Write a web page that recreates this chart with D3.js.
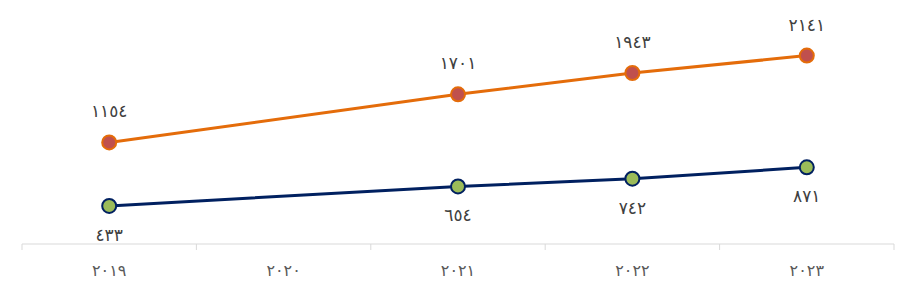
<!DOCTYPE html>
<html><head><meta charset="utf-8">
<script src="https://cdn.jsdelivr.net/npm/d3@7"></script>
<style>body{margin:0;background:#fff}svg{display:block}</style>
</head><body>
<script>
const categories = ["2019","2020","2021","2022","2023"];
const orangeSeries = [1154, null, 1701, 1943, 2141];
const blueSeries = [433, null, 654, 742, 871];

const W = 918, H = 300;
const toAr = s => String(s).replace(/[0-9]/g, d => "٠١٢٣٤٥٦٧٨٩"[+d]);
const svg = d3.select("body").append("svg").attr("width", W).attr("height", H);

const x = d3.scaleBand().domain(categories).range([22, 894]);
const y = d3.scaleLinear().domain([0, 2500]).range([244, 24]);

const axis = svg.append("g").attr("transform", "translate(0,244)")
  .call(d3.axisBottom(x).tickSize(0).tickFormat(toAr));
axis.select(".domain").attr("stroke", "#d9d9d9").attr("d", "M22,0H894");
axis.selectAll("text").attr("font-family", "DejaVu Sans").attr("font-size", 16)
  .attr("fill", "#595959").attr("dy", 0).attr("y", 32);
const edges = categories.map(c => x(c)).concat([894]);
axis.selectAll(".edge").data(edges).join("line")
  .attr("x1", d => d).attr("x2", d => d).attr("y1", 0).attr("y2", 6)
  .attr("stroke", "#d9d9d9");

function series(vals, lineColor, fillColor, labelDy) {
  const pts = categories.map((c, i) => ({c, v: vals[i]})).filter(d => d.v != null);
  const line = d3.line().x(d => x(d.c) + x.bandwidth()/2).y(d => y(d.v));
  svg.append("path").datum(pts).attr("d", line).attr("fill", "none")
    .attr("stroke", lineColor).attr("stroke-width", 3);
  svg.append("g").selectAll("circle").data(pts).join("circle")
    .attr("cx", d => x(d.c) + x.bandwidth()/2).attr("cy", d => y(d.v)).attr("r", 7)
    .attr("fill", fillColor).attr("stroke", lineColor).attr("stroke-width", 2);
  svg.append("g").selectAll("text").data(pts).join("text")
    .attr("x", d => x(d.c) + x.bandwidth()/2).attr("y", d => y(d.v) + labelDy)
    .attr("text-anchor", "middle").attr("font-family", "DejaVu Sans").attr("font-size", 17)
    .attr("fill", "#404040").text(d => toAr(d.v));
}
series(orangeSeries, "#E46C0A", "#C0504D", -25);
series(blueSeries, "#002060", "#9BBB59", 35);
</script>
</body></html>
